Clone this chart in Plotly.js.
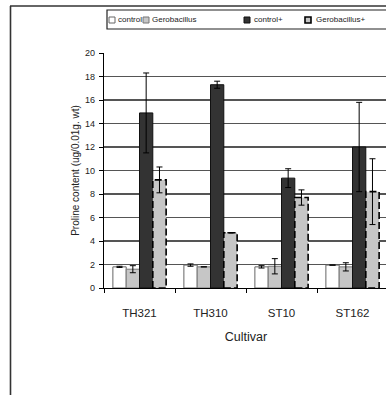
<!DOCTYPE html>
<html>
<head>
<meta charset="utf-8">
<script src="https://cdn.plot.ly/plotly-3.0.1.min.js"></script>
<style>
html,body{margin:0;padding:0;overflow:hidden;background:#fff;}
#chart{width:390px;height:395px;}
</style>
</head>
<body>
<div id="chart"></div>
<script>
// ---- data ----
var cultivars = ["TH321", "TH310", "ST10", "ST162"];
var seriesNames = ["control", "Gerobacillus", "control+", "Gerobacillus+"];
var controlVals = [1.8, 1.95, 1.8, 1.95];
var controlErr = [0.05, 0.1, 0.1, 0.0];
var geroVals = [1.6, 1.8, 1.85, 1.8];
var geroErr = [0.3, 0.0, 0.65, 0.35];
var controlPlusVals = [14.9, 17.3, 9.35, 12.0];
var controlPlusErr = [3.4, 0.3, 0.8, 3.8];
var geroPlusVals = [9.2, 4.7, 7.7, 8.2];
var geroPlusErr = [1.1, 0.0, 0.65, 2.8];
var yTickVals = [0, 2, 4, 6, 8, 10, 12, 14, 16, 18, 20];

// ---- layout geometry (pixels) ----
var W = 390, H = 395, ML = 104, MR = 2, MT = 53, MB = 107;
var PW = W - ML - MR, PH = H - MT - MB;
function px(x){ return (x - ML) / PW; }
function py(y){ return (H - MB - y) / PH; }

var styles = [
  {fill: "#ffffff", line: "#666666", lw: 1},
  {fill: "#c6c6c6", line: "#777777", lw: 1},
  {fill: "#333333", line: "#111111", lw: 1},
  {fill: "#c6c6c6", line: "#000000", lw: 1.6}
];
var vals = [controlVals, geroVals, controlPlusVals, geroPlusVals];
var errs = [controlErr, geroErr, controlPlusErr, geroPlusErr];

var traces = seriesNames.map(function(n, i){
  return {
    type: "bar", name: n, x: cultivars, y: vals[i],
    marker: {color: styles[i].fill, line: {color: styles[i].line, width: styles[i].lw}},
    error_y: {type: "data", array: errs[i], visible: true, color: "#000", thickness: 1, width: 3},
    hoverinfo: "none"
  };
});

var font = "Liberation Sans, Arial, sans-serif";
var shapes = [
  // outer frame
  {type: "line", xref: "paper", yref: "paper", x0: px(10.5), x1: px(10.5), y0: py(6), y1: py(400), line: {color: "#333", width: 1.6}},
  {type: "line", xref: "paper", yref: "paper", x0: px(10), x1: px(400), y0: py(6), y1: py(6), line: {color: "#333", width: 1.6}},
  // legend box
  {type: "rect", xref: "paper", yref: "paper", x0: px(107), x1: px(395), y0: py(10), y1: py(29), line: {color: "#222", width: 1.2}, fillcolor: "rgba(0,0,0,0)"}
];
var legendBoxX = [109, 143, 244, 305];
var legendTextX = [115.5, 150, 252, 314];
var annotations = [];
seriesNames.forEach(function(n, i){
  shapes.push({type: "rect", xref: "paper", yref: "paper",
    x0: px(legendBoxX[i]), x1: px(legendBoxX[i] + 6), y0: py(17), y1: py(23),
    fillcolor: styles[i].fill, line: {color: i === 3 ? "#000" : styles[i].line, width: i === 3 ? 1.6 : 1}});
  annotations.push({xref: "paper", yref: "paper", x: px(legendTextX[i]), y: py(20),
    xanchor: "left", yanchor: "middle", showarrow: false, text: n,
    font: {family: font, size: 8, color: "#222"}});
});

var layout = {
  width: W, height: H,
  margin: {l: ML, r: MR, t: MT, b: MB},
  paper_bgcolor: "#fff", plot_bgcolor: "#fff",
  showlegend: false,
  barmode: "group", bargap: 0.25, bargroupgap: 0,
  font: {family: font, color: "#222"},
  xaxis: {
    type: "category", range: [-0.5, 3.5], showgrid: false,
    showline: true, linecolor: "#000", linewidth: 1.2,
    ticks: "outside", tickson: "boundaries", ticklen: 4, tickcolor: "#000",
    ticklabelstandoff: 14,
    tickfont: {family: font, size: 11.5, color: "#222"},
    title: {text: "Cultivar", font: {family: font, size: 12.5, color: "#222"}, standoff: 14},
    automargin: false, fixedrange: true
  },
  yaxis: {
    range: [0, 20], tickvals: yTickVals, ticktext: yTickVals.map(String),
    showgrid: true, gridcolor: "#555", gridwidth: 1.2, zeroline: false,
    showline: true, linecolor: "#000", linewidth: 1.2,
    ticks: "outside", ticklen: 4, tickcolor: "#000",
    ticklabelstandoff: 2,
    tickfont: {family: font, size: 9, color: "#222"},
    title: {text: "Proline content (ug/0.01g. wt)", font: {family: font, size: 10, color: "#222"}, standoff: 3},
    automargin: false, fixedrange: true
  },
  shapes: shapes,
  annotations: annotations
};

Plotly.newPlot("chart", traces, layout, {staticPlot: true}).then(function(){
  var tr = document.querySelectorAll("#chart .barlayer .trace");
  if (tr.length >= 4) {
    tr[3].querySelectorAll(".point path").forEach(function(p){
      p.style.strokeDasharray = "7,3";
    });
  }
});
</script>
</body>
</html>
